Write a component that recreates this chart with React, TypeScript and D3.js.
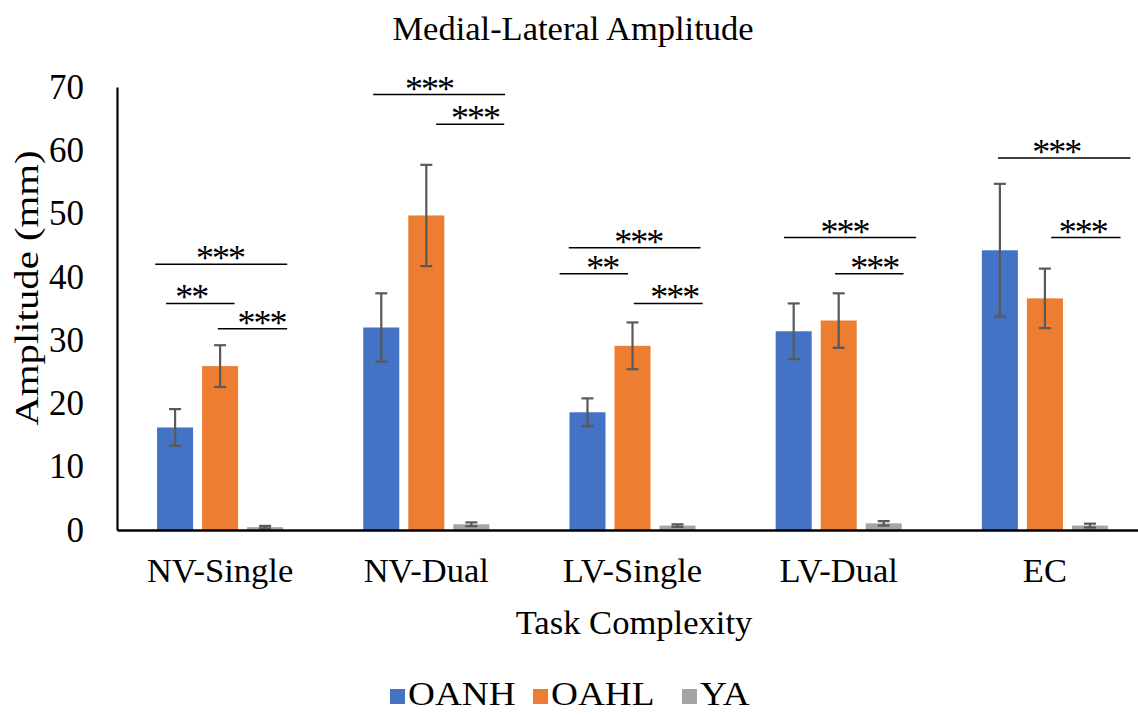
import React, { useEffect, useRef } from "react";
import * as d3 from "d3";

const categories = ["NV-Single", "NV-Dual", "LV-Single", "LV-Dual", "EC"];
const seriesNames = ["OANH", "OAHL", "YA"];
const seriesColors = ["#4472C4", "#ED7D31", "#A5A5A5"];

const oanh = [16.2, 32.0, 18.6, 31.4, 44.2];
const oanhErr = [2.9, 5.4, 2.2, 4.4, 10.5];
const oahl = [25.9, 49.7, 29.1, 33.1, 36.6];
const oahlErr = [3.3, 8.0, 3.7, 4.3, 4.7];
const ya = [0.45, 0.9, 0.7, 1.05, 0.7];
const yaErr = [0.2, 0.3, 0.2, 0.35, 0.3];

const yTicks = [0, 10, 20, 30, 40, 50, 60, 70];

// significance brackets: group index, start/end in bar slots (0 = OANH, 2 = YA), height in mm
const sigGroup = [0, 0, 0, 1, 1, 2, 2, 2, 3, 3, 4, 4];
const sigFrom = [-0.44, -0.2, 0.95, -0.18, 1.22, -0.415, -0.62, 1.03, -0.215, 0.92, -0.04, 1.14];
const sigTo = [2.49, 1.32, 2.49, 2.75, 2.73, 2.51, 0.9, 2.56, 2.72, 2.44, 2.9, 2.68];
const sigLevel = [42.0, 35.8, 31.8, 68.8, 64.1, 44.6, 40.5, 35.8, 46.2, 40.5, 58.8, 46.2];
const sigLabel = ["***", "**", "***", "***", "***", "***", "**", "***", "***", "***", "***", "***"];
const sigLabelAt = [1.0, 0.36, 1.92, 1.06, 2.08, 1.13, 0.33, 1.93, 1.13, 1.79, 1.25, 1.84];

const FONT = "'Liberation Serif', 'Times New Roman', serif";

export default function App() {
  const ref = useRef<SVGSVGElement>(null);

  useEffect(() => {
    const svg = d3.select(ref.current);
    svg.selectAll("*").remove();
    svg.attr("font-family", FONT);

    const values = [oanh, oahl, ya];
    const errors = [oanhErr, oahlErr, yaErr];

    const x = d3.scaleBand().domain(categories).range([117, 1148]);
    const inner = d3
      .scaleBand()
      .domain(seriesNames)
      .range([0, x.bandwidth()])
      .paddingInner(0.2)
      .paddingOuter(0.89);
    const y = d3.scaleLinear().domain([0, 70]).range([530, 87]);

    const slotX = (g: number, k: number) =>
      (x(categories[g]) as number) +
      (inner(seriesNames[0]) as number) +
      inner.bandwidth() / 2 +
      k * inner.step();

    // title
    svg
      .append("text")
      .attr("x", 573)
      .attr("y", 40)
      .attr("text-anchor", "middle")
      .attr("font-size", 34.5)
      .text("Medial-Lateral Amplitude");

    // bars
    seriesNames.forEach((s, si) => {
      svg
        .append("g")
        .selectAll("rect")
        .data(values[si])
        .enter()
        .append("rect")
        .attr("x", (d, i) => (x(categories[i]) as number) + (inner(s) as number))
        .attr("y", (d) => y(d))
        .attr("width", inner.bandwidth())
        .attr("height", (d) => y(0) - y(d))
        .attr("fill", seriesColors[si]);
    });

    // error bars
    seriesNames.forEach((s, si) => {
      const g = svg.append("g").attr("stroke", "#595959").attr("stroke-width", 2.2);
      values[si].forEach((v, i) => {
        const cx = (x(categories[i]) as number) + (inner(s) as number) + inner.bandwidth() / 2;
        const e = errors[si][i];
        g.append("line").attr("x1", cx).attr("x2", cx).attr("y1", y(v + e)).attr("y2", y(v - e));
        g.append("line").attr("x1", cx - 6).attr("x2", cx + 6).attr("y1", y(v + e)).attr("y2", y(v + e));
        g.append("line").attr("x1", cx - 6).attr("x2", cx + 6).attr("y1", y(v - e)).attr("y2", y(v - e));
      });
    });

    // axes
    const yAxis = svg
      .append("g")
      .attr("transform", "translate(117,0)")
      .call(d3.axisLeft(y).tickValues(yTicks).tickSize(0).tickPadding(33));
    yAxis.attr("font-family", FONT);
    yAxis.select(".domain").attr("stroke", "#000").attr("stroke-width", 2.2);
    yAxis.selectAll("text").attr("font-size", 35).attr("fill", "#000");

    const xAxis = svg
      .append("g")
      .attr("transform", `translate(0,${y(0)})`)
      .call(d3.axisBottom(x).tickSize(0));
    xAxis.attr("font-family", FONT);
    xAxis.select(".domain").attr("stroke", "#000").attr("stroke-width", 2.6);
    xAxis
      .selectAll("text")
      .attr("y", 52)
      .attr("dy", 0)
      .attr("font-size", 34.5)
      .attr("fill", "#000");

    // significance brackets
    const sig = svg.append("g");
    sigGroup.forEach((g, i) => {
      sig
        .append("line")
        .attr("x1", slotX(g, sigFrom[i]))
        .attr("x2", slotX(g, sigTo[i]))
        .attr("y1", y(sigLevel[i]))
        .attr("y2", y(sigLevel[i]))
        .attr("stroke", "#000")
        .attr("stroke-width", 1.5);
      sig
        .append("text")
        .attr("x", slotX(g, sigLabelAt[i]))
        .attr("y", y(sigLevel[i]) + 6)
        .attr("text-anchor", "middle")
        .attr("font-size", 36)
        .attr("letter-spacing", -2)
        .text(sigLabel[i]);
    });

    // axis titles
    svg
      .append("text")
      .attr("x", 634)
      .attr("y", 634)
      .attr("text-anchor", "middle")
      .attr("font-size", 34.6)
      .text("Task Complexity");
    svg
      .append("text")
      .attr("transform", "translate(38,288) rotate(-90) scale(1.2,1)")
      .attr("text-anchor", "middle")
      .attr("font-size", 34)
      .text("Amplitude (mm)");

    // legend
    const legendX = [390, 533, 682];
    seriesNames.forEach((s, si) => {
      const lg = svg.append("g").attr("transform", `translate(${legendX[si]},0)`);
      lg.append("rect").attr("x", 0).attr("y", 689).attr("width", 15).attr("height", 15).attr("fill", seriesColors[si]);
      lg.append("text")
        .attr("transform", "translate(18,705) scale(1.13,1)")
        .attr("font-size", 33)
        .text(s);
    });
  }, []);

  return (
    <svg
      ref={ref}
      width={1138}
      height={715}
      style={{ position: "absolute", left: 0, top: 0, background: "#fff" }}
    />
  );
}
